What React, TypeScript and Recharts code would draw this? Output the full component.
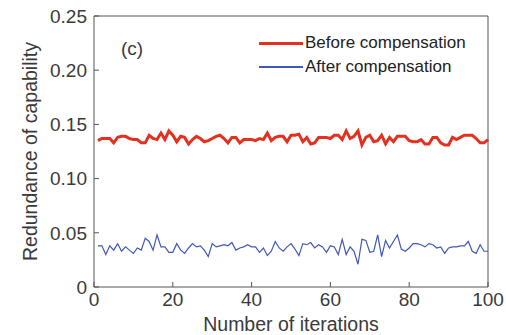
import { LineChart, Line, XAxis, YAxis } from 'recharts';

// iteration index 1..100
const ITERATIONS = Array.from({ length: 100 }, (_, i) => i + 1);

// redundance of capability
const BEFORE = [
  0.135, 0.137, 0.137, 0.137, 0.133, 0.138, 0.139, 0.139, 0.137, 0.136,
  0.136, 0.133, 0.133, 0.140, 0.137, 0.136, 0.142, 0.136, 0.144, 0.140,
  0.134, 0.139, 0.138, 0.132, 0.136, 0.139, 0.137, 0.134, 0.135, 0.137,
  0.139, 0.140, 0.137, 0.133, 0.138, 0.138, 0.133, 0.136, 0.136, 0.136,
  0.135, 0.137, 0.136, 0.142, 0.135, 0.138, 0.139, 0.139, 0.134, 0.140,
  0.140, 0.141, 0.134, 0.138, 0.132, 0.133, 0.138, 0.138, 0.138, 0.137,
  0.140, 0.140, 0.136, 0.144, 0.137, 0.139, 0.144, 0.131, 0.138, 0.140,
  0.134, 0.135, 0.140, 0.132, 0.138, 0.134, 0.139, 0.139, 0.139, 0.135,
  0.134, 0.134, 0.136, 0.132, 0.132, 0.138, 0.138, 0.133, 0.131, 0.131,
  0.138, 0.136, 0.138, 0.140, 0.140, 0.140, 0.137, 0.133, 0.133, 0.136,
];

const AFTER = [
  0.038, 0.038, 0.030, 0.038, 0.034, 0.040, 0.033, 0.037, 0.034, 0.031,
  0.036, 0.034, 0.045, 0.042, 0.034, 0.048, 0.037, 0.037, 0.032, 0.032,
  0.040, 0.034, 0.031, 0.036, 0.040, 0.037, 0.038, 0.034, 0.028, 0.040,
  0.037, 0.038, 0.039, 0.038, 0.041, 0.034, 0.036, 0.037, 0.039, 0.037,
  0.037, 0.032, 0.036, 0.029, 0.033, 0.042, 0.036, 0.033, 0.037, 0.040,
  0.035, 0.029, 0.040, 0.039, 0.041, 0.036, 0.039, 0.037, 0.032, 0.038,
  0.037, 0.030, 0.044, 0.030, 0.037, 0.033, 0.021, 0.044, 0.043, 0.032,
  0.033, 0.048, 0.028, 0.043, 0.036, 0.042, 0.048, 0.035, 0.033, 0.036,
  0.040, 0.040, 0.039, 0.037, 0.040, 0.039, 0.036, 0.037, 0.031, 0.036,
  0.037, 0.037, 0.038, 0.038, 0.042, 0.033, 0.031, 0.039, 0.033, 0.033,
];

const X_TICKS = [0, 20, 40, 60, 80, 100];
const Y_TICKS = [0, 0.05, 0.1, 0.15, 0.2, 0.25];
const Y_LABELS = ['0', '0.05', '0.10', '0.15', '0.20', '0.25'];

const data = ITERATIONS.map((it, i) => ({ it, before: BEFORE[i], after: AFTER[i] }));

const FONT = 'Liberation Sans, Arial, sans-serif';
const TEXT = '#3a3a3a';
const AXIS = '#555555';
const RED = '#e3301f';
const BLUE = '#4058b8';

function LegendRow({ color, w, label }: { color: string; w: number; label: string }) {
  return (
    <div style={{ display: 'flex', alignItems: 'center', height: 24 }}>
      <span style={{ display: 'inline-block', width: 44, height: w, background: color, marginRight: 2 }} />
      <span style={{ color: '#222', fontSize: 17, fontFamily: FONT }}>{label}</span>
    </div>
  );
}

export default function App() {
  return (
    <div style={{ position: 'absolute', left: 0, top: 0, width: 506, height: 335, background: '#fff', overflow: 'hidden' }}>
      <LineChart
        width={506}
        height={335}
        data={data}
        margin={{ top: 15, right: 17, left: 0, bottom: 0 }}
        style={{ fontFamily: FONT }}
      >
        <XAxis
          dataKey="it"
          type="number"
          domain={[0, 100]}
          ticks={X_TICKS}
          height={48}
          stroke={AXIS}
          tickSize={-5}
          tickMargin={11}
          tick={{ fill: TEXT, fontSize: 19 }}
          label={{ value: 'Number of iterations', position: 'insideBottom', offset: 4, fill: TEXT, fontSize: 19.5 }}
        />
        <XAxis xAxisId="top" orientation="top" dataKey="it" type="number" domain={[0, 100]}
          ticks={X_TICKS} height={1} stroke={AXIS} tickSize={-5} tick={false} />
        <YAxis
          type="number"
          domain={[0, 0.25]}
          ticks={Y_TICKS}
          width={94}
          stroke={AXIS}
          tickSize={-5}
          tickMargin={12}
          tick={{ fill: TEXT, fontSize: 19 }}
          tickFormatter={(v: number) => Y_LABELS[Y_TICKS.indexOf(v)] ?? String(v)}
          label={{ value: 'Redundance of capability', angle: -90, position: 'insideLeft', offset: 30, fill: TEXT, fontSize: 19.5, style: { textAnchor: 'middle' } }}
        />
        <YAxis yAxisId="right" orientation="right" type="number" domain={[0, 0.25]}
          ticks={Y_TICKS} width={1} stroke={AXIS} tickSize={-5} tick={false} />
        <Line dataKey="before" stroke={RED} strokeWidth={3} dot={false} isAnimationActive={false} />
        <Line dataKey="after" stroke={BLUE} strokeWidth={1.2} dot={false} isAnimationActive={false} />
      </LineChart>
      <div style={{ position: 'absolute', left: 259, top: 31 }}>
        <LegendRow color={RED} w={3} label="Before compensation" />
        <LegendRow color={BLUE} w={1.3} label="After compensation" />
      </div>
      <div style={{ position: 'absolute', left: 121, top: 38, fontFamily: FONT, fontSize: 19, color: TEXT }}>(c)</div>
    </div>
  );
}
